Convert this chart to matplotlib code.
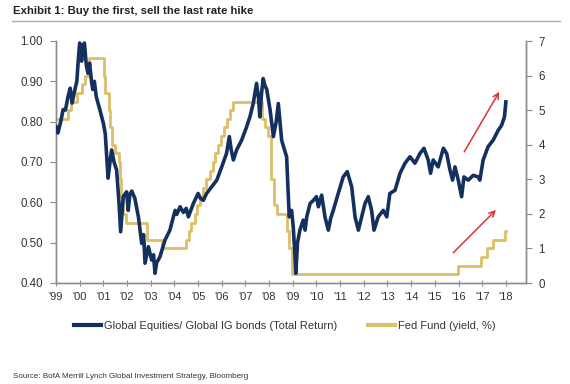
import matplotlib
matplotlib.use("Agg")
import matplotlib.pyplot as plt
from matplotlib.lines import Line2D

plt.rcParams['font.family'] = ['Liberation Sans', 'DejaVu Sans']

# Global Equities / Global IG bonds (Total Return) ratio - left axis
eq_years = [1999.00, 1999.08, 1999.2, 1999.3, 1999.4, 1999.5, 1999.6, 1999.68, 1999.8, 1999.88,
            1999.95, 2000.0, 2000.08, 2000.15, 2000.2, 2000.28, 2000.35, 2000.42, 2000.5, 2000.55,
            2000.62, 2000.7, 2000.85, 2001.0, 2001.08, 2001.14, 2001.2, 2001.28, 2001.35, 2001.45,
            2001.56, 2001.66, 2001.73, 2001.84, 2001.98, 2002.05, 2002.12, 2002.2, 2002.33, 2002.48,
            2002.55, 2002.62, 2002.7, 2002.76, 2002.9, 2003.04, 2003.12, 2003.18, 2003.25, 2003.39,
            2003.6, 2003.81, 2004.03, 2004.1, 2004.24, 2004.38, 2004.5, 2004.59, 2004.8, 2005.0,
            2005.1, 2005.22, 2005.36, 2005.57, 2005.79, 2006.0, 2006.2, 2006.32, 2006.4, 2006.49,
            2006.63, 2006.84, 2007.05, 2007.19, 2007.33, 2007.47, 2007.55, 2007.61, 2007.68, 2007.75,
            2007.82, 2007.9, 2008.04, 2008.18, 2008.3, 2008.39, 2008.46, 2008.53, 2008.65, 2008.74,
            2008.85, 2008.95, 2009.02, 2009.08, 2009.13, 2009.2, 2009.3, 2009.44, 2009.52, 2009.59,
            2009.73, 2009.87, 2010.0, 2010.08, 2010.22, 2010.36, 2010.5, 2010.6, 2010.71, 2010.92,
            2011.13, 2011.3, 2011.49, 2011.63, 2011.77, 2011.91, 2012.05, 2012.19, 2012.33, 2012.43,
            2012.61, 2012.82, 2012.97, 2013.1, 2013.32, 2013.53, 2013.74, 2013.95, 2014.16, 2014.37,
            2014.54, 2014.72, 2014.82, 2014.93, 2015.14, 2015.36, 2015.5, 2015.64, 2015.75, 2015.85,
            2015.99, 2016.13, 2016.23, 2016.41, 2016.62, 2016.83, 2016.9, 2017.04, 2017.25, 2017.46,
            2017.68, 2017.82, 2017.94, 2018.0]
eq_vals = [0.787, 0.772, 0.80, 0.83, 0.829, 0.86, 0.883, 0.846, 0.88, 0.90,
           0.96, 0.995, 0.95, 0.99, 0.995, 0.94, 0.92, 0.945, 0.90, 0.88,
           0.90, 0.862, 0.83, 0.796, 0.77, 0.713, 0.66, 0.70, 0.73, 0.70,
           0.68, 0.60, 0.527, 0.614, 0.626, 0.58, 0.62, 0.628, 0.61, 0.564,
           0.531, 0.498, 0.52, 0.449, 0.49, 0.457, 0.47, 0.424, 0.45, 0.465,
           0.506, 0.531, 0.58, 0.57, 0.589, 0.575, 0.585, 0.564, 0.597, 0.622,
           0.61, 0.605, 0.622, 0.638, 0.655, 0.688, 0.721, 0.763, 0.73, 0.705,
           0.73, 0.754, 0.787, 0.812, 0.845, 0.895, 0.86, 0.812, 0.87, 0.907,
           0.89, 0.88, 0.83, 0.763, 0.80, 0.845, 0.80, 0.754, 0.73, 0.713,
           0.564, 0.58, 0.539, 0.48, 0.424, 0.50, 0.531, 0.556, 0.531, 0.564,
           0.597, 0.605, 0.614, 0.589, 0.618, 0.564, 0.531, 0.56, 0.58, 0.622,
           0.663, 0.676, 0.638, 0.564, 0.531, 0.564, 0.597, 0.614, 0.58, 0.531,
           0.564, 0.58, 0.564, 0.622, 0.63, 0.672, 0.697, 0.713, 0.697, 0.721,
           0.734, 0.705, 0.672, 0.705, 0.688, 0.734, 0.721, 0.68, 0.655, 0.688,
           0.655, 0.614, 0.663, 0.655, 0.667, 0.663, 0.655, 0.705, 0.738, 0.754,
           0.779, 0.791, 0.812, 0.849]

# Fed funds target rate (%) - right axis, step changes
ff_years = [1999.0, 1999.5, 1999.65, 1999.88, 2000.08, 2000.22, 2000.38,
            2001.01, 2001.08, 2001.22, 2001.30, 2001.38, 2001.49, 2001.64, 2001.71, 2001.76,
            2001.85, 2001.95, 2002.85, 2003.48,
            2004.49, 2004.61, 2004.72, 2004.87, 2004.96, 2005.09, 2005.22, 2005.34, 2005.50,
            2005.61, 2005.72, 2005.84, 2005.96, 2006.08, 2006.24, 2006.36, 2006.49,
            2007.71, 2007.83, 2007.95, 2008.06, 2008.08, 2008.21, 2008.33, 2008.77, 2008.83,
            2008.96, 2015.96, 2016.96, 2017.21, 2017.45, 2017.95, 2018.0]
ff_vals = [4.75, 5.00, 5.25, 5.50, 5.75, 6.00, 6.50,
           6.00, 5.50, 5.00, 4.50, 4.00, 3.75, 3.50, 3.00, 2.50,
           2.00, 1.75, 1.25, 1.00,
           1.25, 1.50, 1.75, 2.00, 2.25, 2.50, 2.75, 3.00, 3.25,
           3.50, 3.75, 4.00, 4.25, 4.50, 4.75, 5.00, 5.25,
           4.75, 4.50, 4.25, 3.50, 3.00, 2.25, 2.00, 1.50, 1.00,
           0.25, 0.50, 0.75, 1.00, 1.25, 1.50, 1.50]

year_ticks = list(range(1999, 2019))
year_labels = ["'%02d" % (y % 100) for y in year_ticks]
left_ticks = [0.40, 0.50, 0.60, 0.70, 0.80, 0.90, 1.00]
right_ticks = [0, 1, 2, 3, 4, 5, 6, 7]

# arrows (year, left-axis value)
arrow1 = ((2016.24, 0.725), (2017.72, 0.874))
arrow2 = ((2015.78, 0.475), (2017.58, 0.581))

NAVY = '#14305f'
GOLD = '#dcbf6a'
AXC = '#8c8c8c'

fig = plt.figure(figsize=(5.70, 3.84), dpi=100)
ax = fig.add_axes([56/570, 1 - 283/384, (526-56)/570, (283-41)/384])
ax2 = ax.twinx()

ax2.plot(ff_years, ff_vals, color=GOLD, lw=2.0, drawstyle='steps-post', zorder=2)
ax.plot(eq_years, eq_vals, color=NAVY, lw=2.6, zorder=3)
ax.set_zorder(ax2.get_zorder() + 1)
ax.patch.set_visible(False)

ax.set_xlim(1999, 2018.85)
ax.set_ylim(0.40, 1.00)
ax2.set_ylim(0, 7)
ax.set_xticks(year_ticks)
ax.set_xticklabels(year_labels)
ax.set_yticks(left_ticks)
ax.set_yticklabels(['%.2f' % v for v in left_ticks])
ax2.set_yticks(right_ticks)

for a in (ax, ax2):
    a.spines['top'].set_visible(False)
    for s in ('left', 'right', 'bottom'):
        a.spines[s].set_color(AXC)
        a.spines[s].set_linewidth(1.0)
ax.tick_params(axis='x', direction='inout', length=5, color=AXC, labelsize=8,
               labelcolor='#333333', pad=4)
ax.tick_params(axis='y', direction='out', length=4, color=AXC, labelsize=8.3,
               labelcolor='#333333', pad=5.5)
ax2.tick_params(axis='y', direction='out', length=4, color=AXC, labelsize=8.3,
                labelcolor='#333333', pad=5)

for (x0, y0), (x1, y1) in (arrow1, arrow2):
    ax.annotate('', xy=(x1, y1), xytext=(x0, y0),
                arrowprops=dict(arrowstyle='->', color='#e03030', lw=1.1,
                                mutation_scale=10, shrinkA=0, shrinkB=0), zorder=5)

# title and rule
fig.text(13/570, 1 - 11/384, 'Exhibit 1: Buy the first, sell the last rate hike',
         fontsize=8.2, fontweight='bold', color='#222222', va='center', ha='left')
fig.add_artist(Line2D([12/570, 560/570], [1 - 21/384, 1 - 21/384], color='#9fb0c6', lw=1.0))

handles = [Line2D([], [], color=NAVY, lw=3),
           Line2D([], [], color=GOLD, lw=3)]
fig.legend(handles, ['Global Equities/ Global IG bonds (Total Return)', 'Fed Fund (yield, %)'],
           loc='center', bbox_to_anchor=(0.5, 1 - 326/384), ncol=2, frameon=False,
           fontsize=8, handlelength=2.4, handletextpad=0.3, columnspacing=2.8,
           labelcolor='#333333')

fig.text(13/570, 1 - 377/384, 'Source: BofA Merrill Lynch Global Investment Strategy, Bloomberg',
         fontsize=5.8, color='#333333', va='center', ha='left')

fig.savefig('out.png', dpi=100)
